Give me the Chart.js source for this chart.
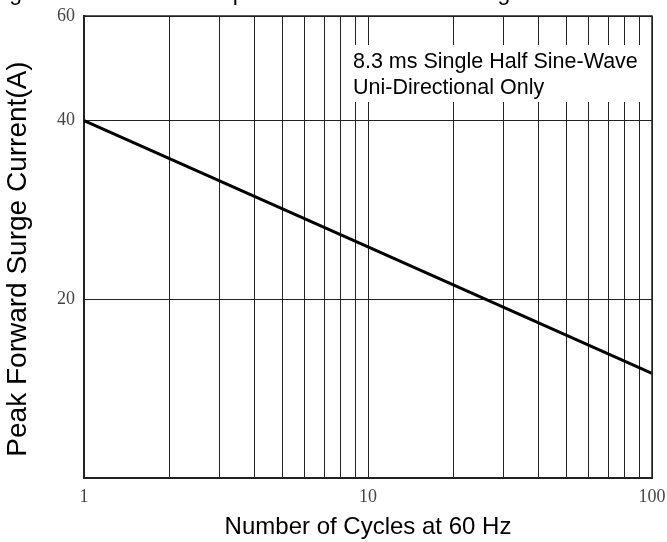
<!DOCTYPE html>
<html>
<head>
<meta charset="utf-8">
<script src="https://cdn.jsdelivr.net/npm/chart.js@4.4.1/dist/chart.umd.min.js"></script>
<style>
html,body{margin:0;padding:0;background:#fff;}
canvas{display:block;}
</style>
</head>
<body>
<canvas id="c" width="667" height="542"></canvas>
<script>
// Data
const cycles = [1, 10, 100];
const surgeCurrent = [40, 24.5, 15];
const xGridValues = [1, 2, 3, 4, 5, 6, 7, 8, 9, 10, 20, 30, 40, 50, 60, 70, 80, 90, 100];
const xTickLabels = [1, 10, 100];
const yTickValues = [10, 20, 40, 60];
const yTickLabels = [20, 40, 60];
const titleText = "Fig.3 Maximum Non-Repetitive Peak Forward Surge Current";
const noteLines = ["8.3 ms Single Half Sine-Wave", "Uni-Directional Only"];
const xTitle = "Number of Cycles at 60 Hz";
const yTitle = "Peak Forward Surge Current(A)";

const sans = "'Liberation Sans', Arial, sans-serif";
const serif = "'Liberation Serif', 'Times New Roman', serif";

const overlay = {
  id: 'overlay',
  beforeDatasetsDraw(chart) {
    const ctx = chart.ctx;
    ctx.save();
    ctx.fillStyle = '#fff';
    ctx.fillRect(345, 45, 301, 57);
    ctx.fillStyle = '#000';
    ctx.font = "21.5px " + sans;
    ctx.textBaseline = 'middle';
    ctx.textAlign = 'left';
    ctx.fillText(noteLines[0], 353, 62);
    ctx.fillText(noteLines[1], 353, 88);
    ctx.restore();
  },
  afterDraw(chart) {
    const ctx = chart.ctx;
    ctx.save();
    ctx.fillStyle = '#000';
    ctx.font = "23px " + sans;
    ctx.textBaseline = 'alphabetic';
    ctx.textAlign = 'left';
    ctx.fillText(titleText, -10, 0);
    ctx.restore();
    // y-axis title
    ctx.save();
    ctx.translate(18, 259);
    ctx.rotate(-Math.PI / 2);
    ctx.fillStyle = '#000';
    ctx.font = "28px " + sans;
    ctx.textAlign = 'center';
    ctx.textBaseline = 'middle';
    ctx.fillText(yTitle, 0, 0);
    ctx.restore();
  }
};

new Chart(document.getElementById('c'), {
  type: 'line',
  data: {
    datasets: [{
      data: cycles.map((x, i) => ({x: x, y: surgeCurrent[i]})),
      borderColor: '#000',
      borderWidth: 3,
      pointRadius: 0,
      tension: 0,
      fill: false
    }]
  },
  options: {
    responsive: false,
    animation: false,
    devicePixelRatio: 1,
    layout: {padding: {top: 16, right: 15, left: 0, bottom: 0}},
    plugins: {legend: {display: false}, tooltip: {enabled: false}, title: {display: false}},
    scales: {
      x: {
        type: 'logarithmic',
        min: 1, max: 100,
        afterBuildTicks(s) { s.ticks = xGridValues.map(v => ({value: v})); },
        afterFit(s) { s.height = 64; s.paddingLeft = 0; s.paddingRight = 0; },
        border: {display: true, color: '#222', width: 2},
        grid: {color: '#222', lineWidth: 1, drawTicks: false},
        ticks: {
          autoSkip: false,
          maxRotation: 0,
          padding: 8,
          color: '#444',
          font: {family: serif, size: 18},
          callback: (v) => xTickLabels.includes(v) ? String(v) : ''
        },
        title: {display: true, text: xTitle, color: '#000', font: {family: sans, size: 24}, padding: {top: 3, bottom: 0}}
      },
      y: {
        type: 'logarithmic',
        min: 10, max: 60,
        afterBuildTicks(s) { s.ticks = yTickValues.map(v => ({value: v})); },
        afterFit(s) { s.width = 84; s.paddingTop = 0; s.paddingBottom = 0; },
        border: {display: true, color: '#222', width: 2},
        grid: {color: '#222', lineWidth: 1, drawTicks: false},
        ticks: {
          autoSkip: false,
          padding: 9,
          color: '#444',
          font: {family: serif, size: 18},
          callback: (v) => yTickLabels.includes(v) ? String(v) : ''
        },
        title: {display: false}
      }
    }
  },
  plugins: [overlay, {
    id: 'frame',
    afterDraw(chart) {
      const a = chart.chartArea, ctx = chart.ctx;
      ctx.save();
      ctx.strokeStyle = '#222';
      ctx.lineWidth = 1.5;
      ctx.beginPath();
      ctx.moveTo(a.left, a.top);
      ctx.lineTo(a.right, a.top);
      ctx.lineTo(a.right, a.bottom);
      ctx.stroke();
      ctx.restore();
    }
  }]
});
</script>
</body>
</html>
